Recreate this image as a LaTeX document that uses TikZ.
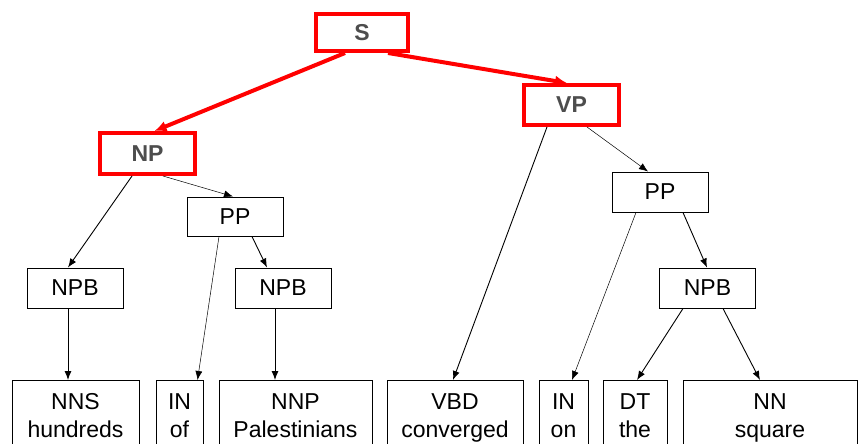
\documentclass[tikz,border=0pt]{standalone}
\usepackage{fontspec}
\setmainfont{Liberation Sans}
\usetikzlibrary{arrows.meta,positioning,calc}
\definecolor{hl}{HTML}{FF0000}
\definecolor{hltext}{HTML}{4D4D4D}
\tikzset{
  >={Latex[length=9pt,width=7pt]},
  box/.style={draw=black,line width=1pt,inner sep=0pt,minimum width=96pt,minimum height=40pt,font=\fontsize{23}{28}\selectfont,align=center,fill=white},
  hbox/.style={box,draw=hl,line width=4pt,font=\fontsize{23}{28}\selectfont\bfseries\color{hltext}},
  leaf/.style={box,anchor=north,minimum width=#1,minimum height=0pt,inner xsep=0pt,inner ysep=13pt},
  arr/.style={->,draw=black,line width=0.9pt},
  tarr/.style={->,draw=black,line width=0.5pt},
  harr/.style={-{Latex[length=12pt,width=11pt]},draw=hl,line width=4pt},
}
\begin{document}
\begin{tikzpicture}[x=1pt,y=-1pt]
\clip (0,0) rectangle (860,444);
\node[hbox,minimum width=92pt,minimum height=37pt] (s) at (362,32.5) {S};
\node[hbox,minimum width=95pt] (vp) at (571.5,105) {VP};
\node[hbox,minimum width=95pt,minimum height=41pt] (np) at (147.5,153.5) {NP};
\node[box,minimum height=39pt] (ppl) at (235,216.5) {PP};
\node[box] (ppr) at (660,192) {PP};
\node[box] (npbl) at (75,288) {NPB};
\node[box] (npbm) at (283,288) {NPB};
\node[box] (npbr) at (707.5,288) {NPB};
\node[leaf=127pt] (nns) at (75.5,380) {NNS\\hundreds};
\node[leaf=47pt] (inof) at (179.5,380) {IN\\of};
\node[leaf=153pt] (nnp) at (295.5,380) {NNP\\Palestinians};
\node[leaf=136pt] (vbd) at (455,380) {VBD\\converged};
\node[leaf=49pt] (inon) at (563.5,380) {IN\\on};
\node[leaf=64pt] (dt) at (635,380) {DT\\the};
\node[leaf=174pt] (nn) at (770,380) {NN\\square};
\draw[harr] ([xshift=-17pt]s.south) -- ([xshift=7pt]np.north);
\draw[harr] ([xshift=26pt]s.south) -- ([xshift=-4.5pt]vp.north);
\draw[arr] ([xshift=-15.5pt]np.south) -- ([xshift=-7pt]npbl.north);
\draw[tarr] ([xshift=15.5pt]np.south) -- ([xshift=-2pt]ppl.north);
\draw[tarr] ([xshift=-16pt]ppl.south) -- ([xshift=18pt]inof.north);
\draw[arr] ([xshift=17pt]ppl.south) -- ([xshift=-16pt]npbm.north);
\draw[arr] ([xshift=-7pt]npbl.south) -- ([xshift=-7.5pt]nns.north);
\draw[arr] ([xshift=-8pt]npbm.south) -- ([xshift=-20.5pt]nnp.north);
\draw[arr] ([xshift=-24.5pt]vp.south) -- ([xshift=-2pt]vbd.north);
\draw[tarr] ([xshift=15.5pt]vp.south) -- ([xshift=-12pt]ppr.north);
\draw[tarr] ([xshift=-24pt]ppr.south) -- ([xshift=8.5pt]inon.north);
\draw[arr] ([xshift=23pt]ppr.south) -- ([xshift=-0.5pt]npbr.north);
\draw[arr] ([xshift=-24.5pt]npbr.south) -- ([xshift=2pt]dt.north);
\draw[arr] ([xshift=15.5pt]npbr.south) -- ([xshift=-10pt]nn.north);
\end{tikzpicture}
\end{document}
